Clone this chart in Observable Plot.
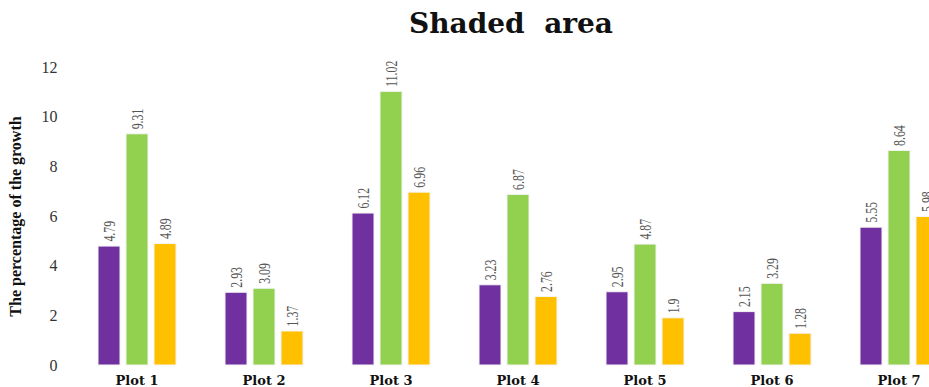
<!DOCTYPE html>
<html>
<head>
<meta charset="utf-8">
<script src="https://cdn.jsdelivr.net/npm/d3@7"></script>
<script src="https://cdn.jsdelivr.net/npm/@observablehq/plot@0.6"></script>
<style>
  html, body { margin: 0; padding: 0; background: white; overflow: hidden; }
  #title {
    width: 929px; height: 40px; line-height: 48px; box-sizing: border-box;
    padding-left: 93px; text-align: center; white-space: pre;
    font-family: "DejaVu Serif", serif; font-weight: bold; font-size: 28px; color: #111;
  }
</style>
</head>
<body>
<div id="title">Shaded  area</div>
<div id="chart"></div>
<script>
// Groups along the x axis
const plots = ["Plot 1", "Plot 2", "Plot 3", "Plot 4", "Plot 5", "Plot 6", "Plot 7"];
// Three series per group
const seriesNames = ["Series 1", "Series 2", "Series 3"];
const series1 = [4.79, 2.93, 6.12, 3.23, 2.95, 2.15, 5.55];
const series2 = [9.31, 3.09, 11.02, 6.87, 4.87, 3.29, 8.64];
const series3 = [4.89, 1.37, 6.96, 2.76, 1.9, 1.28, 5.98];
const seriesColors = ["#7030A0", "#92D050", "#FFC000"];
const yTicks = [0, 2, 4, 6, 8, 10, 12];
const yLabel = "The percentage of the growth";

const allSeries = [series1, series2, series3];
const rows = plots.flatMap((p, i) =>
  allSeries.map((s, j) => ({plot: p, series: seriesNames[j], value: s[i]}))
);

const chart = Plot.plot({
  width: 929,
  height: 347,
  marginTop: 27,
  marginBottom: 22,
  marginLeft: 73,
  marginRight: -33,
  style: {fontFamily: "Liberation Serif", background: "white", overflow: "hidden"},
  fx: {domain: plots, paddingInner: 0.376, paddingOuter: 0.188, label: null},
  x: {domain: seriesNames, paddingInner: 0.22, paddingOuter: 0, axis: null},
  y: {domain: [0, 12], axis: null},
  color: {domain: seriesNames, range: seriesColors},
  marks: [
    Plot.axisFx({
      anchor: "bottom", tickSize: 0, tickPadding: 10, label: null,
      fontFamily: "DejaVu Serif", fontWeight: "bold", fontSize: 13, color: "#111"
    }),
    Plot.axisY({ticks: yTicks, tickSize: 0, tickPadding: 40, fontSize: 16, label: null, color: "#333"}),
    Plot.axisY({
      ticks: [], label: yLabel, labelArrow: false, labelAnchor: "center", labelOffset: 88,
      fontWeight: "bold", fontSize: 16, color: "#111"
    }),
    Plot.barY(rows, {fx: "plot", x: "series", y: "value", fill: "series", stroke: "#f4f4f4", strokeWidth: 1}),
    Plot.text(rows, {
      fx: "plot", x: "series", y: "value", text: d => String(d.value),
      rotate: -90, textAnchor: "start", dy: -5, fill: "#555", fontSize: 16
    })
  ]
});

document.getElementById("chart").appendChild(chart);

// Narrow the rotated value labels along their reading direction
chart.querySelectorAll('g[aria-label="text"] text').forEach(t => {
  const tr = t.getAttribute("transform") || "";
  t.setAttribute("transform", tr + " scale(0.74,1)");
});
</script>
</body>
</html>
